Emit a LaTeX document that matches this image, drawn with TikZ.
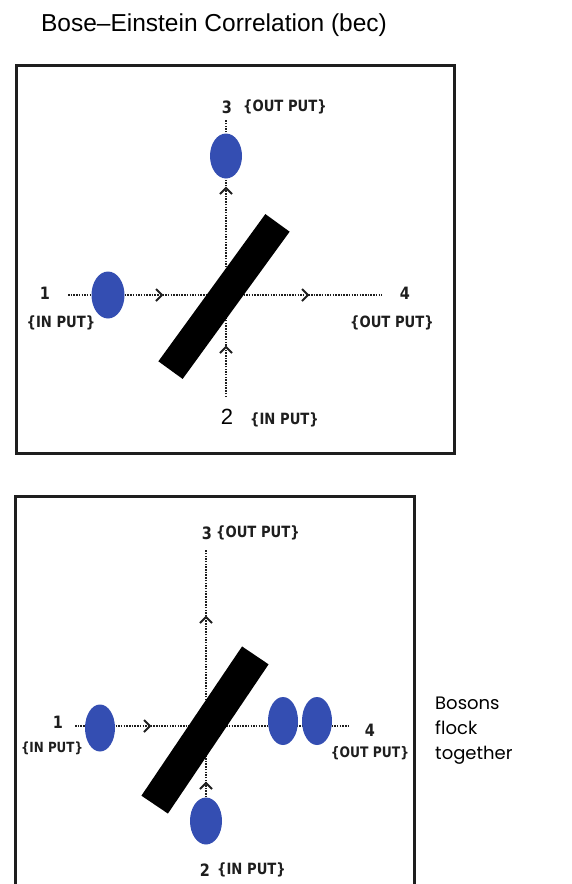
\documentclass[tikz,border=0pt]{standalone}
\usepackage{fontspec}
\setmainfont{Liberation Sans}
\newfontfamily\lblfont{DejaVu Sans}[FakeStretch=0.85]
\newfontfamily\noteFont{Poppins}
\usetikzlibrary{shapes.geometric,arrows.meta,decorations.markings}
\definecolor{bosonblue}{RGB}{52,78,178}
\definecolor{framegray}{RGB}{30,30,30}
\newcommand\chevtip{\draw[solid,line width=1.8pt,draw=framegray,line join=miter] (-6pt,-6pt) -- (0pt,0pt) -- (-6pt,6pt);}
\tikzset{
  boxframe/.style={draw=framegray, line width=3pt},
  boson/.style={ellipse, fill=bosonblue, draw=none, inner sep=0pt, minimum width=32pt, minimum height=46pt},
  splitter/.style={rectangle, fill=black, draw=none, inner sep=0pt, minimum width=182pt, minimum height=30pt},
  beamline/.style={draw=framegray, line width=1.3pt, dash pattern=on 1.5pt off 1.2pt},
  twoarrows/.style 2 args={postaction={decorate}, decoration={markings, mark=at position #1 with {\chevtip}, mark=at position #2 with {\chevtip}}},
  onearrow/.style={postaction={decorate}, decoration={markings, mark=at position #1 with {\chevtip}}},
  portlbl/.style={inner sep=0pt, font=\lblfont\bfseries\fontsize{15.5}{15.5}\selectfont, text=framegray},
  smalllbl/.style={inner sep=0pt, font=\lblfont\bfseries\fontsize{14}{14}\selectfont, text=framegray},
  portnum/.style={inner sep=0pt, font=\lblfont\bfseries\fontsize{17}{17}\selectfont, text=framegray},
  plainnum/.style={inner sep=0pt, font=\fontsize{22}{22}\selectfont},
  titletext/.style={inner sep=0pt, font=\fontsize{24.5}{24.5}\selectfont},
  note/.style={inner sep=0pt, anchor=west, align=left, font=\noteFont\fontsize{18}{25}\selectfont}
}
\begin{document}
\begin{tikzpicture}[x=1pt,y=-1pt]
\useasboundingbox (0,0) rectangle (572,884);
\clip (0,0) rectangle (572,884);
% title
\node[titletext] (title) at (214,25) {Bose–Einstein Correlation (bec)};
% ===== top panel =====
\draw[boxframe] (16,65) rectangle (454,453);
\coordinate (tL) at (68,295);
\coordinate (tR) at (382,295);
\coordinate (tB) at (226,397);
\coordinate (tT) at (226,120);
\draw[beamline, twoarrows={94pt}{240pt}] (tL) -- (tR);
\draw[beamline, twoarrows={50pt}{209pt}] (tB) -- (tT);
\node[splitter, rotate=54] (tbar) at (224,296.5) {};
\node[boson, minimum width=33pt, minimum height=47pt] (tin1) at (108,295) {};
\node[boson, minimum width=32pt, minimum height=45pt] (tout3) at (226,156) {};
\node[portnum] (tn1) at (45,293) {1};
\node[portlbl] (tl1) at (61,323) {\{IN PUT\}};
\node[portnum] (tn3) at (227,107) {3};
\node[portlbl, anchor=west] (tl3) at (243,107) {\{OUT PUT\}};
\node[portnum] (tn4) at (405,293) {4};
\node[portlbl] (tl4) at (392,323) {\{OUT PUT\}};
\node[plainnum] (tn2) at (227,417) {2};
\node[portlbl, anchor=west] (tl2) at (250,420) {\{IN PUT\}};
% ===== bottom panel =====
\draw[boxframe] (15,890) -- (15,496) -- (414,496) -- (414,890);
\coordinate (bL) at (75,726);
\coordinate (bR) at (348,726);
\coordinate (bB) at (206,800);
\coordinate (bT) at (206,550);
\draw[beamline, onearrow=75pt] (bL) -- (bR);
\draw[beamline, twoarrows={17pt}{183pt}] (bB) -- (bT);
\node[splitter, rotate=56, minimum width=180pt, minimum height=32pt] (bbar) at (205,730) {};
\node[boson, minimum width=30pt, minimum height=47pt] (bin1) at (100,728) {};
\node[boson, minimum width=32pt, minimum height=47pt] (bin2) at (206,821) {};
\node[boson, minimum width=30pt, minimum height=48pt] (bout4a) at (283,721) {};
\node[boson, minimum width=30pt, minimum height=48pt] (bout4b) at (317,721) {};
\node[portnum] (bn3) at (207,533) {3};
\node[portlbl, anchor=west] (bl3) at (216,533) {\{OUT PUT\}};
\node[portnum] (bn1) at (58,722) {1};
\node[smalllbl] (bl1) at (52,748) {\{IN PUT\}};
\node[portnum] (bn4) at (370,730) {4};
\node[portlbl, font=\lblfont\bfseries\fontsize{14.5}{14.5}\selectfont] (bl4) at (370,753) {\{OUT PUT\}};
\node[portnum] (bn2) at (205,870) {2};
\node[portlbl, anchor=west] (bl2) at (217,870) {\{IN PUT\}};
\node[note] (bosons) at (435,731) {Bosons\\flock\\together};
\end{tikzpicture}
\end{document}
